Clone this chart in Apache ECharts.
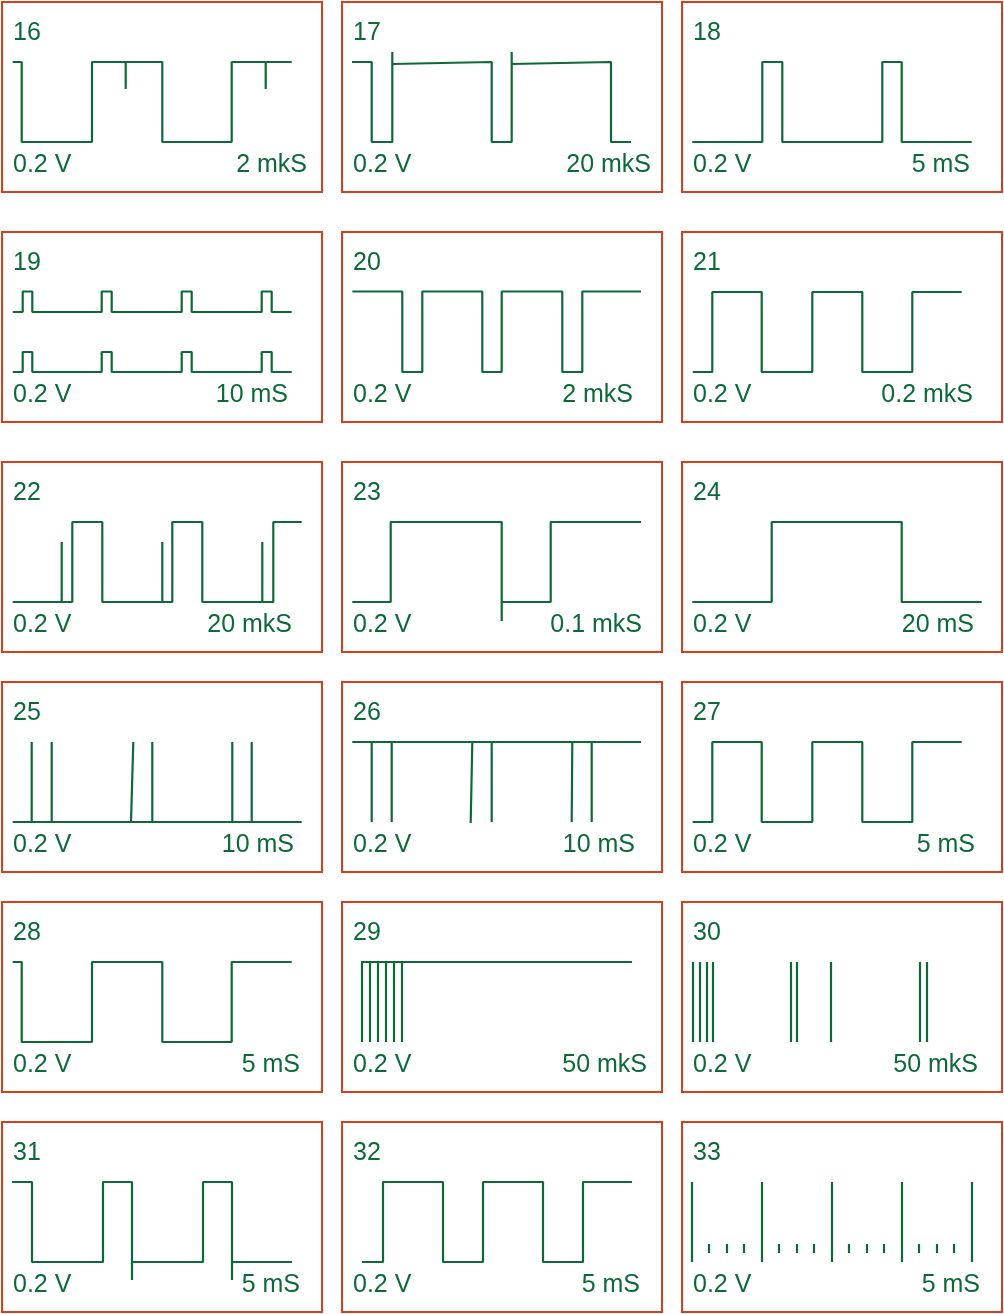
<!DOCTYPE html>
<html>
<head>
<meta charset="utf-8">
<script src="https://cdn.jsdelivr.net/npm/echarts@6/dist/echarts.min.js"></script>
<style>
html,body{margin:0;padding:0;background:#fff}
#chart{width:1004px;height:1314px}
</style>
</head>
<body>
<div id="chart"></div>
<script>
// waveform coordinates: x = time across the screen (0..320), y = screen level (0 top .. 190 bottom)
var NUMS  = ['16','17','18','19','20','21','22','23','24','25','26','27','28','29','30','31','32','33'];
var TIMES = ['2 mkS','20 mkS','5 mS','10 mS','2 mkS','0.2 mkS','20 mkS','0.1 mkS','20 mS',
             '10 mS','10 mS','5 mS','5 mS','50 mkS','50 mkS','5 mS','5 mS','5 mS'];
var VOLT  = '0.2 V';

var p16 = [[[10.7,60],[19.7,60],[19.7,140],[90,140],[90,60],[123.7,60],[123.7,87],[123.7,60],[160.3,60],
  [160.3,140],[229.7,140],[229.7,60],[263.7,60],[263.7,87],[263.7,60],[289.7,60]]];
var p17 = [[[10,60],[29.7,60],[29.7,140],[50.3,140],[50.3,50],[50.3,62],[149.7,60],[149.7,140],[169.7,140],
  [169.7,50],[169.7,62],[269,60],[269,140],[289,140]]];
var p18 = [[[10.3,140],[80.3,140],[80.3,60],[100.3,60],[100.3,140],[200.3,140],[200.3,60],[219.7,60],
  [219.7,140],[289.7,140]]];
var p19 = [
  [[10.7,80],[20.7,80],[20.7,59.5],[30.3,59.5],[30.3,80],[99.7,80],[99.7,59.5],[109.7,59.5],[109.7,80],
   [179.7,80],[179.7,59.5],[189.7,59.5],[189.7,80],[259.7,80],[259.7,59.5],[269.7,59.5],[269.7,80],[289.7,80]],
  [[10.7,140],[20.7,140],[20.7,120],[30.3,120],[30.3,140],[99.7,140],[99.7,120],[109.7,120],[109.7,140],
   [179.7,140],[179.7,120],[189.7,120],[189.7,140],[259.7,140],[259.7,120],[269.7,120],[269.7,140],[289.7,140]]
];
var p20 = [[[10.3,59.5],[60.3,59.5],[60.3,140],[80.3,140],[80.3,59.5],[140.3,59.5],[140.3,140],[159.7,140],
  [159.7,59.5],[220.3,59.5],[220.3,140],[240.3,140],[240.3,59.5],[299,59.5]]];
var p21 = [[[10.7,140],[30.3,140],[30.3,60],[79.7,60],[79.7,140],[130.3,140],[130.3,60],[180.3,60],
  [180.3,140],[230.3,140],[230.3,60],[279.7,60]]];
var p22 = [[[10.7,140],[59.7,140],[59.7,80],[59.7,140],[70.3,140],[70.3,60],[100.3,60],[100.3,140],
  [160.3,140],[160.3,80],[160.3,140],[170.3,140],[170.3,60],[200.3,60],[200.3,140],[260.3,140],[260.3,80],
  [260.3,140],[271.3,140],[271.3,60],[299.7,60]]];
var p23 = [[[10.3,140],[48.7,140],[48.7,60],[159.7,60],[159.7,159],[159.7,140],[208.7,140],[208.7,60],[299,60]]];
var p24 = [[[10.3,140],[89.7,140],[89.7,60],[219.7,60],[219.7,140],[299.7,140]]];
var p25 = [[[10.7,140],[29.7,140],[29.7,60],[29.7,140],[49.7,140],[49.7,60],[49.7,140],[129,140],[131.3,60],
  [129,140],[150.3,140],[150.3,60],[150.3,140],[230.3,140],[230.3,60],[230.3,140],[249.7,140],[249.7,60],
  [249.7,140],[299.7,140]]];
var p26 = [[[10.3,60],[29.7,60],[29.7,140],[29.7,60],[49.7,60],[49.7,140],[49.7,60],[130.3,60],[128.7,141],
  [130.3,60],[149.7,60],[149.7,140],[149.7,60],[230.3,60],[229.7,140],[230.3,60],[249.7,60],[249.7,140],
  [249.7,60],[299,60]]];
var p27 = [[[10.7,140],[30.3,140],[30.3,60],[79.7,60],[79.7,140],[130.3,140],[130.3,60],[180.3,60],
  [180.3,140],[230.3,140],[230.3,60],[279.7,60]]];
var p28 = [[[10.7,60],[19.7,60],[19.7,140],[90,140],[90,60],[160.3,60],[160.3,140],[229.7,140],[229.7,60],[289.7,60]]];
var p29Top = [[19,60],[290,60]];
var p29Spikes = [20, 28, 36, 44, 52, 60];
var p30Spikes = [11, 18, 25, 31, 109, 115, 149, 238, 245];
var p31 = [[[10,60],[30,60],[30,140],[101,140],[101,60],[130,60],[130,158],[130,140],[201,140],[201,60],
  [230,60],[230,158],[230,140],[290,140]]];
var p32 = [[[20,140],[41,140],[41,60],[101,60],[101,140],[141,140],[141,60],[201,60],[201,140],[241,140],
  [241,60],[290,60]]];
var p33Tall = [10, 80, 150, 220, 290];
var p33Ticks = [27, 45, 62, 97, 115, 132, 167, 185, 202, 237, 255, 272];

var SPIKE_TOP = 60, SPIKE_BOT = 140, TICK_TOP = 122, TICK_BOT = 131;

function vlines(xs, y1, y2) {
  return xs.map(function (x) { return [[x, y1], [x, y2]]; });
}

var SEGMENTS = [
  p16, p17, p18, p19, p20, p21, p22, p23, p24, p25, p26, p27, p28,
  [p29Top].concat(vlines(p29Spikes, SPIKE_TOP, SPIKE_BOT)),
  vlines(p30Spikes, SPIKE_TOP, SPIKE_BOT),
  p31, p32,
  vlines(p33Tall, SPIKE_TOP, SPIKE_BOT).concat(vlines(p33Ticks, TICK_TOP, TICK_BOT))
];

/* layout */
var GREEN = '#0d6a38', RED = '#d4401c';
var FONT = '25px "Liberation Sans", Arial, sans-serif';
var COL_X = [2, 342, 682];
var ROW_Y = [2, 232, 462, 682, 902, 1122];
var BW = 320, BH = 190;
var TIME_RIGHT = [305, 309, 288, 286, 291, 291, 290, 300, 292, 292, 293, 293, 298, 305, 296, 298, 298, 298];

var grids = [], xAxes = [], yAxes = [], series = [], graphics = [];
NUMS.forEach(function (n, i) {
  var bx = COL_X[i % 3], by = ROW_Y[Math.floor(i / 3)];
  grids.push({left: bx, top: by, width: BW, height: BH, show: true,
    borderColor: RED, borderWidth: 2, backgroundColor: '#fff'});
  xAxes.push({type: 'value', gridIndex: i, min: 0, max: BW, show: false});
  yAxes.push({type: 'value', gridIndex: i, min: 0, max: BH, inverse: true, show: false});
  SEGMENTS[i].forEach(function (seg) {
    series.push({
      type: 'line', xAxisIndex: i, yAxisIndex: i, data: seg,
      symbol: 'none', clip: false, silent: true,
      lineStyle: {width: 2.2, color: GREEN}
    });
  });
  function txt(s, x, y, align) {
    graphics.push({type: 'text', x: x, y: y, silent: true,
      style: {text: s, fill: GREEN, font: FONT, align: align, textAlign: align,
              verticalAlign: 'middle', textVerticalAlign: 'middle'}});
  }
  txt(n, bx + 11, by + 31, 'left');
  txt(VOLT, bx + 11, by + 163, 'left');
  txt(TIMES[i], bx + TIME_RIGHT[i], by + 163, 'right');
});

var chart = echarts.init(document.getElementById('chart'));
chart.setOption({
  animation: false,
  grid: grids,
  xAxis: xAxes,
  yAxis: yAxes,
  series: series,
  graphic: graphics
});
</script>
</body>
</html>
